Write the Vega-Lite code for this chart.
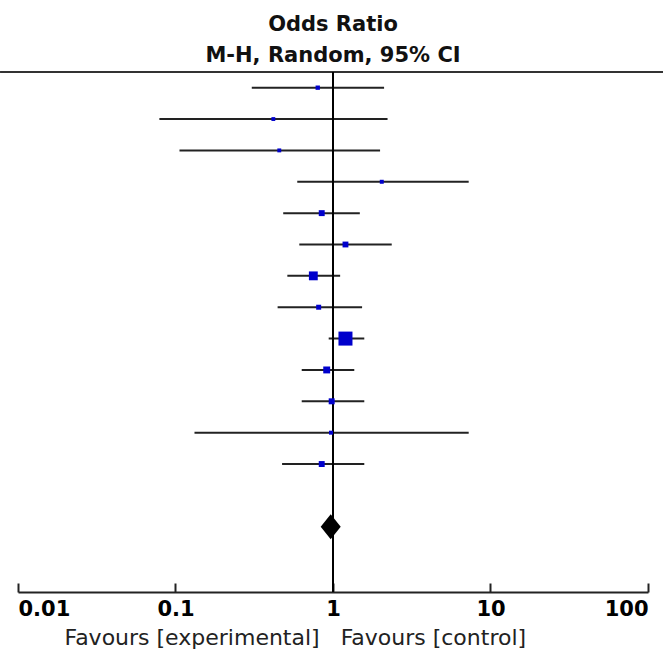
{
  "$schema": "https://vega.github.io/schema/vega-lite/v6.json",
  "width": 630,
  "height": 520,
  "autosize": {"type": "none"},
  "padding": {"left": 18, "right": 15, "top": 72, "bottom": 57},
  "background": "white",
  "config": {"view": {"stroke": null}, "font": "DejaVu Sans"},
  "title": {
    "text": ["Odds Ratio", "M-H, Random, 95% CI"],
    "font": "DejaVu Sans",
    "fontSize": 21,
    "fontWeight": "bold",
    "color": "#111",
    "anchor": "middle",
    "frame": "group",
    "lineHeight": 31,
    "offset": -12,
    "baseline": "alphabetic"
  },
  "datasets": {
    "studies": [
      {"study": 1, "or": 0.80, "lo": 0.305, "hi": 2.11, "weight": 3.3},
      {"study": 2, "or": 0.418, "lo": 0.079, "hi": 2.22, "weight": 2.6},
      {"study": 3, "or": 0.456, "lo": 0.106, "hi": 1.99, "weight": 2.7},
      {"study": 4, "or": 2.04, "lo": 0.593, "hi": 7.27, "weight": 2.8},
      {"study": 5, "or": 0.848, "lo": 0.483, "hi": 1.48, "weight": 6.2},
      {"study": 6, "or": 1.20, "lo": 0.611, "hi": 2.36, "weight": 6.0},
      {"study": 7, "or": 0.75, "lo": 0.513, "hi": 1.11, "weight": 13.8},
      {"study": 8, "or": 0.811, "lo": 0.445, "hi": 1.53, "weight": 4.4},
      {"study": 9, "or": 1.20, "lo": 0.939, "hi": 1.58, "weight": 34.5},
      {"study": 10, "or": 0.912, "lo": 0.633, "hi": 1.365, "weight": 8.4},
      {"study": 11, "or": 0.981, "lo": 0.633, "hi": 1.58, "weight": 6.3},
      {"study": 12, "or": 0.971, "lo": 0.132, "hi": 7.27, "weight": 2.8},
      {"study": 13, "or": 0.848, "lo": 0.475, "hi": 1.58, "weight": 6.2}
    ],
    "pooled": [{"study": 15, "or": 0.967, "lo": 0.836, "hi": 1.119}],
    "frame": [{"study": 0.5, "from": 0.00769, "to": 124.5}]
  },
  "layer": [
    {
      "data": {"name": "frame"},
      "mark": {"type": "rule", "color": "#333", "strokeWidth": 2},
      "encoding": {
        "x": {"field": "from", "type": "quantitative", "scale": {"type": "log", "domain": [0.01, 100], "nice": false}},
        "x2": {"field": "to"},
        "y": {"field": "study", "type": "quantitative", "scale": {"domain": [0.5, 17.08], "reverse": true, "nice": false, "zero": false}, "axis": null}
      }
    },
    {
      "data": {"name": "studies"},
      "mark": {"type": "rule", "color": "#222", "strokeWidth": 2},
      "encoding": {
        "x": {
          "field": "lo", "type": "quantitative",
          "scale": {"type": "log", "domain": [0.01, 100], "nice": false},
          "axis": {
            "values": [0.01, 0.1, 1, 10, 100],
            "format": "~g",
            "labelFlush": true,
            "labelFont": "DejaVu Sans",
            "labelFontWeight": "bold",
            "labelFontSize": 21,
            "labelColor": "#000",
            "domainColor": "#222",
            "domainWidth": 2,
            "tickColor": "#222",
            "tickWidth": 2,
            "tickSize": -9,
            "labelPadding": 15,
            "grid": false,
            "title": "Favours [experimental]\u00a0\u00a0\u00a0Favours [control]",
            "titleFont": "DejaVu Sans",
            "titleFontWeight": "normal",
            "titleFontSize": 22,
            "titleColor": "#222",
            "titleAnchor": "start",
            "titleAlign": "left",
            "titleX": 46,
            "titleY": 52,
            "titleBaseline": "alphabetic"
          }
        },
        "x2": {"field": "hi"},
        "y": {"field": "study", "type": "quantitative", "scale": {"domain": [0.5, 17.08], "reverse": true, "nice": false, "zero": false}, "axis": null}
      }
    },
    {
      "data": {"values": [{}]},
      "mark": {"type": "rule", "color": "#000", "strokeWidth": 2},
      "encoding": {
        "x": {"datum": 1, "type": "quantitative"}
      }
    },
    {
      "data": {"name": "studies"},
      "mark": {"type": "point", "shape": "square", "filled": true, "color": "#0000CC", "opacity": 1},
      "encoding": {
        "x": {"field": "or", "type": "quantitative"},
        "y": {"field": "study", "type": "quantitative"},
        "size": {"field": "weight", "type": "quantitative", "scale": {"domain": [0, 34.5], "range": [0, 196], "zero": true}, "legend": null}
      }
    },
    {
      "data": {"name": "pooled"},
      "mark": {"type": "point", "shape": "M-0.8,0L0,-1L0.8,0L0,1Z", "filled": true, "color": "#000", "opacity": 1, "size": 625},
      "encoding": {
        "x": {"field": "or", "type": "quantitative"},
        "y": {"field": "study", "type": "quantitative"}
      }
    }
  ]
}
